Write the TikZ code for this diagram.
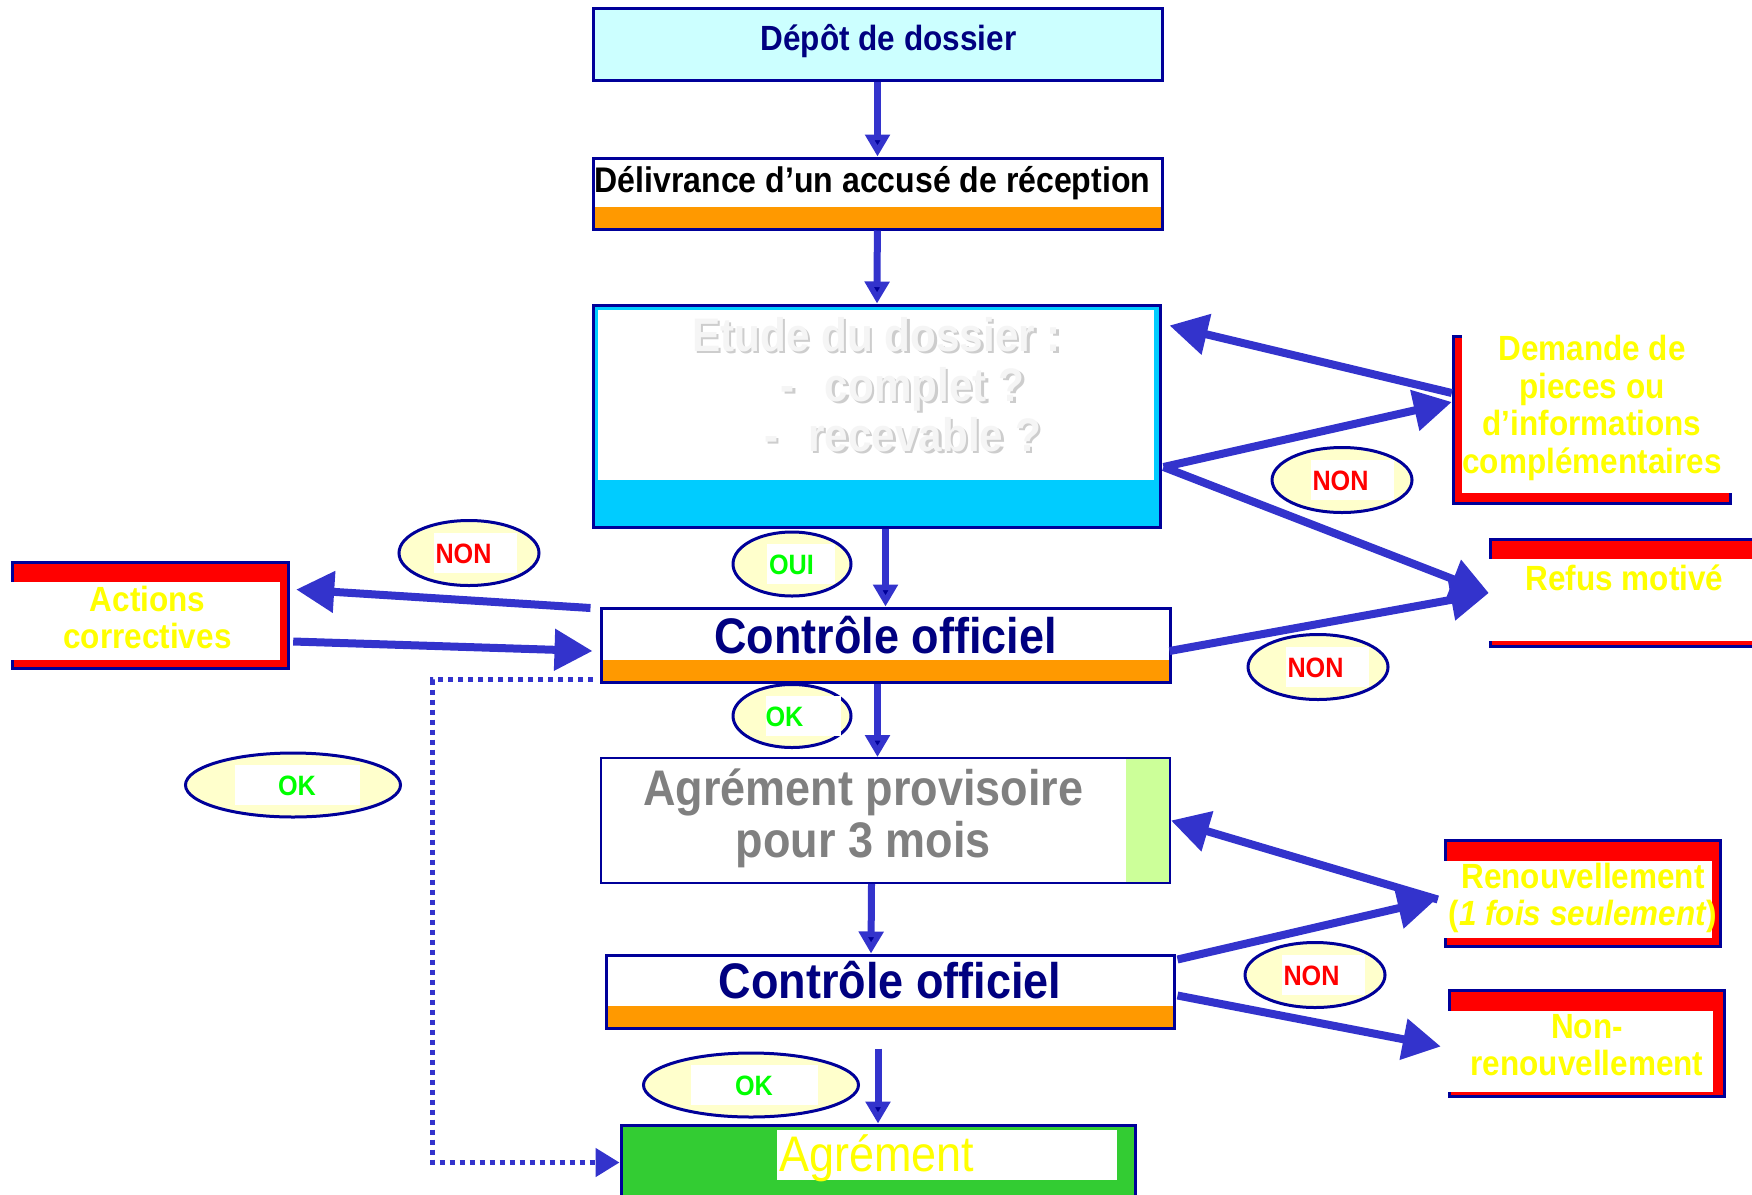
\documentclass[tikz,border=0pt]{standalone}
\usepackage{fontspec}
\setmainfont{Liberation Sans}[FakeStretch=0.9]
\usetikzlibrary{arrows.meta,calc,shapes.geometric}

\definecolor{navyc}{HTML}{000099}
\definecolor{textnavy}{HTML}{000080}
\definecolor{arrowc}{HTML}{3333CC}
\definecolor{orangec}{HTML}{FF9900}
\definecolor{cyanc}{HTML}{00CCFF}
\definecolor{paleblue}{HTML}{CCFFFF}
\definecolor{paleyellow}{HTML}{FFFFCC}
\definecolor{palegreen}{HTML}{CCFF99}
\definecolor{greenc}{HTML}{33CC33}
\definecolor{okgreen}{HTML}{00FF00}
\definecolor{yellowc}{HTML}{FFFF00}
\definecolor{redc}{HTML}{FF0000}
\definecolor{ghost}{HTML}{F5F5F5}
\definecolor{ghostshadow}{HTML}{CDCDCD}

\newcommand\emboss[1]{\makebox[0pt][l]{\hspace{2.5pt}\raisebox{-2.5pt}{\color{ghostshadow}#1}}{\color{ghost}#1}}
\newcommand\tagtext[5][c]{\makebox[#3][l]{\hspace*{#2}{\fboxsep=0pt\colorbox{white}{\makebox[#3][#1]{\rule[-10pt]{0pt}{40pt}\color{#4}#5}}}}}
\newcommand\lines[2]{\raisebox{#1}{\begin{tabular}[b]{@{}c@{}}#2\end{tabular}}}

\tikzset{
  box/.style={draw=navyc, line width=3, fill=white, inner sep=0, text height=0pt, text depth=0pt,
    minimum width=569, minimum height=72, font=\bfseries\fontsize{35}{37.5}\selectfont},
  bandbox/.style={box, path picture={\fill[orangec] (path picture bounding box.south west)
    rectangle ([yshift=22pt]path picture bounding box.south east);}},
  sidebox/.style n args={4}{fill=navyc, inner sep=0, text=yellowc, text height=0pt, text depth=0pt,
    font=\bfseries\fontsize{35}{37.5}\selectfont,
    path picture={
      \fill[redc] ([xshift=3pt,yshift=3pt]path picture bounding box.south west)
        rectangle ([xshift=-3pt,yshift=-3pt]path picture bounding box.north east);
      \fill[white] ([xshift=#1pt,yshift=#4pt]path picture bounding box.south west)
        rectangle ([xshift=-#3pt,yshift=-#2pt]path picture bounding box.north east);}},
  tag/.style={ellipse, draw=navyc, line width=3, fill=paleyellow, inner sep=0,
    minimum width=140, minimum height=65, font=\bfseries\fontsize{28}{30}\selectfont},
  flow/.style={color=arrowc, line width=8, -{Triangle[length=38pt,width=40pt,fill=arrowc]}},
  vflow/.style={color=arrowc, line width=7, -{Triangle[length=22pt,width=24pt,fill=navyc]}},
  dotflow/.style={color=arrowc, line width=5, dash pattern=on 5pt off 5pt,
    -{Triangle[length=24pt,width=28pt,fill=arrowc]}}
}

\begin{document}
\begin{tikzpicture}[x=1pt,y=-1pt]
  \clip (0,0) rectangle (1752,1194);

  \node[box, fill=paleblue, text=textnavy] (dep) at (877.5,44) {\hspace*{22pt}\raisebox{-6pt}{Dépôt de dossier}};
  \node[bandbox, minimum height=71, font=\bfseries\fontsize{35.6}{37.5}\selectfont] (del) at (877.5,193.5)
    {\hspace*{-10pt}\raisebox{1pt}{Délivrance d’un accusé de réception}};
  \node[box, fill=cyanc, minimum width=567, minimum height=222, font=\bfseries\fontsize{47}{50}\selectfont,
    path picture={\fill[white] ([xshift=5pt,yshift=-5pt]path picture bounding box.north west)
      rectangle ([xshift=-6pt,yshift=47pt]path picture bounding box.south east);}] (etu) at (876.5,416)
    {\lines{-35pt}{\emboss{Etude du dossier :}\\
      \hspace*{52pt}\emboss{-}\hspace{30pt}\emboss{complet ?}\\
      \hspace*{52pt}\emboss{-}\hspace{30pt}\emboss{recevable ?}}};
  \node[sidebox={10}{0}{0}{12}, minimum width=280, minimum height=170] (dem) at (1592,420)
    {\lines{-53pt}{Demande de\\pieces ou\\d’informations\\complémentaires}};
  \node[sidebox={0}{21}{0}{7}, minimum width=271, minimum height=110] (ref) at (1624.5,593)
    {\raisebox{3pt}{Refus motivé}};
  \node[bandbox, text=textnavy, font=\bfseries\fontsize{50}{52}\selectfont, minimum height=74] (c1) at (885.5,645)
    {\raisebox{-8pt}{Contrôle officiel}};
  \node[sidebox={0}{21}{10}{10}, minimum width=279, minimum height=109] (act) at (150.5,615.5)
    {\hspace*{-6pt}\lines{-33pt}{Actions\\correctives}};
  \node[box, line width=2, minimum height=125, text=gray, font=\bfseries\fontsize{50}{51}\selectfont,
    path picture={\fill[palegreen] ([xshift=-44pt]path picture bounding box.north east)
      rectangle (path picture bounding box.south east);}] (ap) at (885.5,820.5)
    {\hspace*{-44pt}\lines{-37pt}{Agrément provisoire\\pour 3 mois}};
  \node[sidebox={0}{22}{10}{10}, minimum width=278, minimum height=109] (ren) at (1583,893.5)
    {\lines{-32pt}{Renouvellement\\(\textit{1 fois seulement})}};
  \node[bandbox, text=textnavy, font=\bfseries\fontsize{50}{52}\selectfont, minimum width=568, minimum height=73] (c2) at (890,991.5)
    {\raisebox{-7pt}{Contrôle officiel}};
  \node[sidebox={0}{22}{13}{6}, minimum width=278, minimum height=109] (nre) at (1587,1043.5)
    {\lines{-32pt}{Non-\\renouvellement}};
  \node[box, fill=greenc, minimum width=514, minimum height=75, text=yellowc, font=\fontsize{50}{52}\selectfont,
    path picture={\fill[white] ([xshift=156pt,yshift=-5pt]path picture bounding box.north west)
      rectangle ([xshift=496pt,yshift=-55pt]path picture bounding box.north west);}] (agr) at (878,1162.5)
    {\hspace*{142pt}\makebox[340pt][l]{\raisebox{-9pt}{Agrément}}};

  \node[tag] (non1) at (1342,480) {\tagtext[l]{10pt}{83pt}{redc}{\hspace{2pt}NON}};
  \node[tag] (non2) at (469,553) {\tagtext[l]{6pt}{83pt}{redc}{\hspace{2pt}NON}};
  \node[tag] (non3) at (1318,667) {\tagtext[l]{9pt}{83pt}{redc}{\hspace{2pt}NON}};
  \node[tag] (non4) at (1315,975) {\tagtext[l]{8pt}{83pt}{redc}{\hspace{2pt}NON}};
  \node[tag, minimum width=118, minimum height=64] (oui) at (792,564) {\tagtext[l]{9pt}{68pt}{okgreen}{\hspace{2pt}OUI}};
  \node[tag, minimum width=118, minimum height=63] (ok1) at (792,716) {\tagtext[l]{11pt}{75pt}{okgreen}{OK}};
  \node[tag, minimum width=215, minimum height=64] (ok2) at (293,785) {\tagtext{4pt}{125pt}{okgreen}{OK}};
  \node[tag, minimum width=215, minimum height=64] (ok3) at (751,1085) {\tagtext{3pt}{127pt}{okgreen}{OK}};

  \coordinate (c1out) at ($(c1.south)+(-8,0)$);
  \coordinate (apin) at ($(ap.north)+(-8,0)$);
  \coordinate (apout) at ($(ap.south)+(-14,0)$);
  \coordinate (c2in) at ($(c2.north)+(-19,0)$);
  \coordinate (c2out) at ($(c2.south)+(-12,19)$);
  \path[vflow]
    (dep) edge (del)
    (del) edge (etu)
    (etu.south -| c1.north) edge (c1.north)
    (c1out) edge (apin)
    (apout) edge (c2in)
    (c2out) edge (c2out |- agr.north);
  \path[flow]
    ($(dem.west)+(0,-27)$) edge ($(etu.north east)+(8,22)$)
    ($(etu.east)+(2,51)$) edge ($(dem.west)+(0,-18)$)
    ($(etu.east)+(2,51)$) edge (ref.west)
    ($(c1.east)+(-2,6)$) edge (ref.west)
    ($(c1.west)+(-9,-37)$) edge ($(act.east)+(6,-26)$)
    ($(act.east)+(3,26)$) edge ($(c1.west)+(-7,6)$)
    ($(ren.west)+(-6,6)$) edge (ap.east)
    ($(c2.east)+(2,-32)$) edge ($(ren.west)+(-8,6)$)
    ($(c2.east)+(2,4)$) edge ($(nre.west)+(-7,3)$);
  \draw[dotflow] ($(c1.south west)+(-7,-4)$) -| ($(agr.west)+(-187,0)$) -- (agr.west);
\end{tikzpicture}
\end{document}
